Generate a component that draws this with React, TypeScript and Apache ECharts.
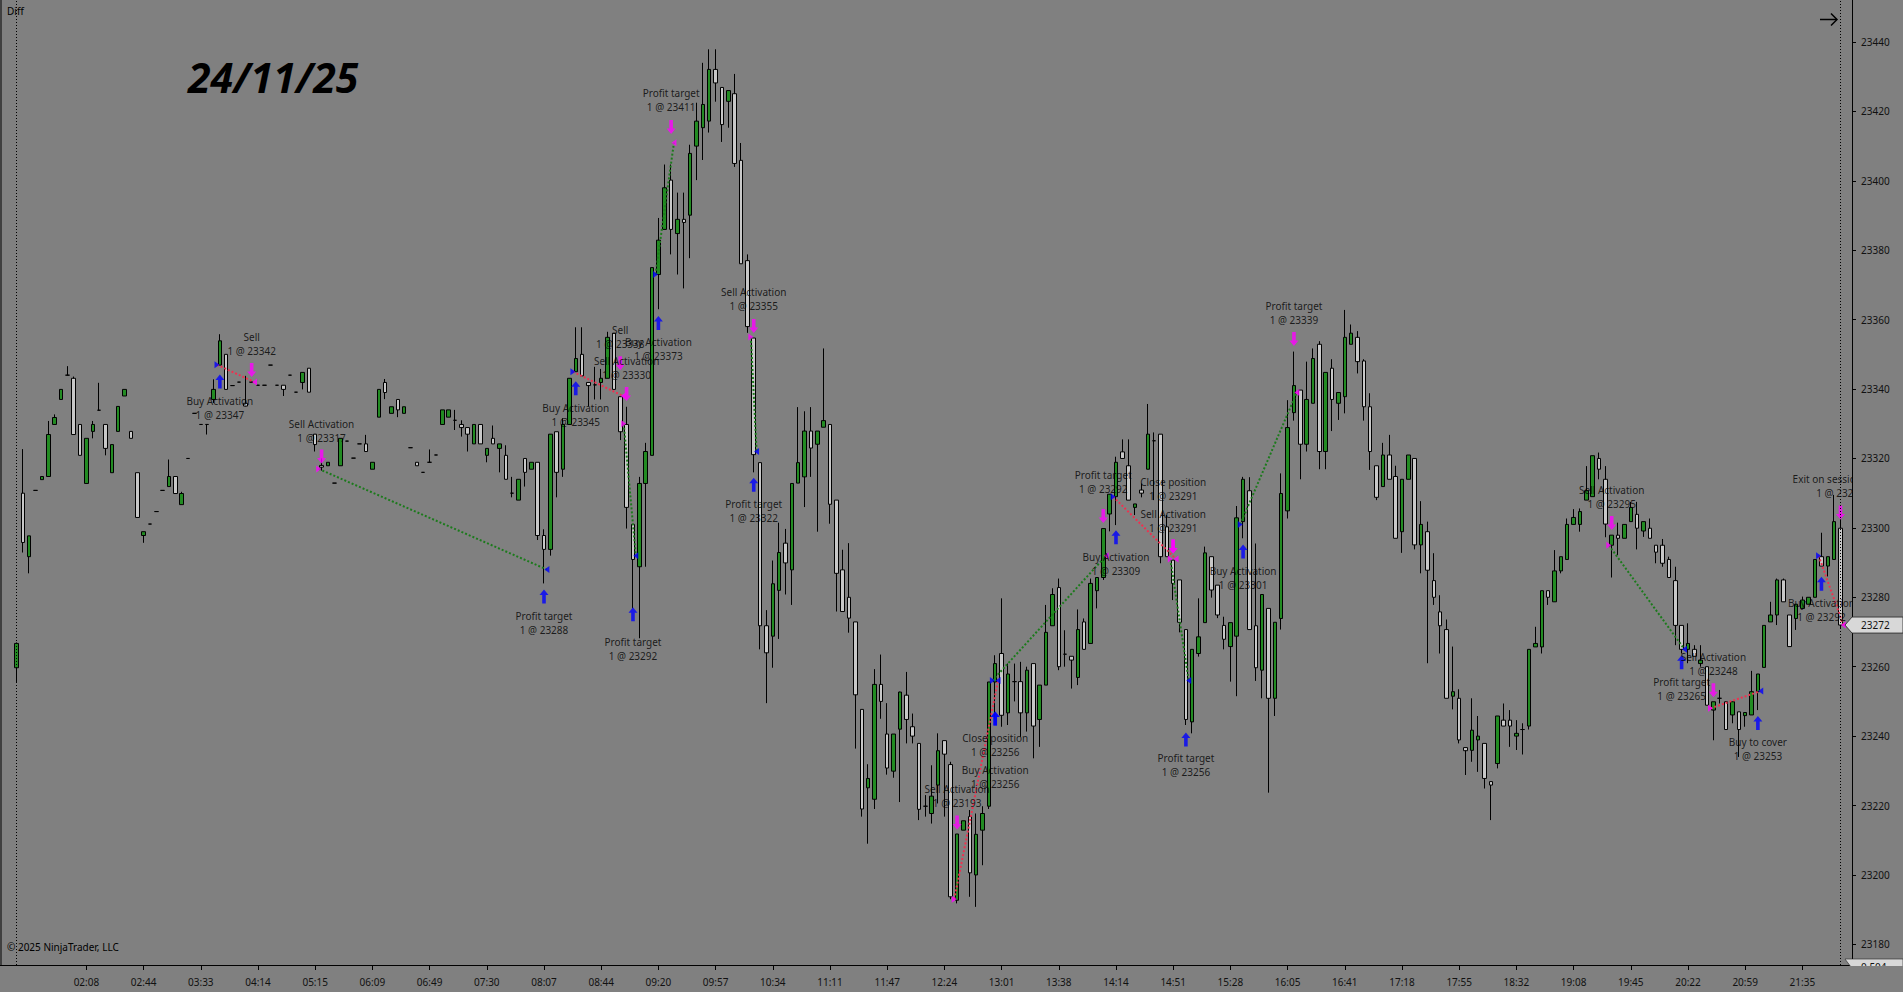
import React, { useEffect, useRef } from "react";
import * as echarts from "echarts";

// x axis: one bar per step, labels every 9 bars
const timeLabels = [
  "02:08", "02:44", "03:33", "04:14", "05:15", "06:09", "06:49", "07:30", "08:07", "08:44",
  "09:20", "09:57", "10:34", "11:11", "11:47", "12:24", "13:01", "13:38", "14:14", "14:51",
  "15:28", "16:05", "16:41", "17:18", "17:55", "18:32", "19:08", "19:45", "20:22", "20:59", "21:35",
];
const tickBars = [
  11, 20, 29, 38, 47, 56, 65, 74, 83, 92, 101, 110, 119, 128, 137, 146, 155, 164, 173, 182,
  191, 200, 209, 218, 227, 236, 245, 254, 263, 272, 281,
];
const priceTicks = [
  23180, 23200, 23220, 23240, 23260, 23280, 23300, 23320, 23340, 23360, 23380, 23400, 23420, 23440,
];

// [open, high, low, close]
const candles: number[][] = [
  [23259.7, 23267, 23255.6, 23266.7], [23310, 23322.7, 23292.9, 23295.8], [23291.7, 23297.7, 23286.9, 23297.7],
  [23310.8, 23310.8, 23310.8, 23310.8], [23313.9, 23314.8, 23313.9, 23314.8], [23314.8, 23330.8, 23314.8, 23326.9],
  [23329.8, 23332.7, 23329.8, 23331.8], [23337, 23339.9, 23337, 23339.9], [23344, 23346.6, 23344, 23344],
  [23343.1, 23343.6, 23326.9, 23326.9], [23329.8, 23329.8, 23320.9, 23320.9], [23312.8, 23325.8, 23312.8, 23325.8],
  [23327.8, 23330.8, 23325.8, 23329.8], [23333.9, 23341.8, 23333.9, 23333.9], [23329.8, 23329.8, 23320.9, 23322.9],
  [23315.9, 23324, 23315.9, 23324], [23327.8, 23335, 23327.8, 23335], [23338, 23339.9, 23338, 23339.9],
  [23327.8, 23327.8, 23325.8, 23325.8], [23315.9, 23315.9, 23303, 23303], [23297.8, 23298.9, 23295.7, 23298.9],
  [23301.1, 23301.1, 23301.1, 23301.1], [23304.7, 23304.7, 23304.7, 23304.7], [23310.8, 23310.8, 23310.8, 23310.8],
  [23311.9, 23319.7, 23311.9, 23314.8], [23314.8, 23314.8, 23309.9, 23309.9], [23306.7, 23310.4, 23306.7, 23309.9],
  [23320, 23320, 23320, 23320], [23333, 23333, 23333, 23333], [23329.8, 23329.8, 23329.8, 23329.8],
  [23329.8, 23329.8, 23326.9, 23329.8], [23337, 23342.8, 23336, 23339.9], [23346.9, 23355.8, 23346.9, 23353.9],
  [23350, 23350, 23339.9, 23339.9], [23341, 23341, 23341, 23341], [23342, 23342, 23342, 23342],
  [23335.9, 23343.8, 23335, 23335.1], [23342, 23342, 23342, 23342], [23341.1, 23341.1, 23341.1, 23341.1],
  [23341.1, 23341.1, 23341.1, 23341.1], [23346.9, 23346.9, 23346.9, 23346.9], [23341.1, 23341.1, 23341.1, 23341.1],
  [23341.1, 23341.1, 23338, 23339.9], [23344, 23344, 23344, 23344], [23339.1, 23339.1, 23339.1, 23339.1],
  [23341.9, 23344.8, 23339.9, 23344.8], [23346, 23346, 23339.1, 23339.1], [23327, 23327, 23322, 23324],
  [23318, 23320, 23316.5, 23317.5], [23317.9, 23318.9, 23317.9, 23318.9], [23312.9, 23312.9, 23312.9, 23312.9],
  [23317.9, 23325.8, 23317.9, 23325.8], [23325, 23325, 23325, 23325], [23320.1, 23320.1, 23320.1, 23320.1],
  [23324.2, 23324.2, 23324.2, 23324.2], [23324.2, 23326.8, 23322, 23322], [23316.9, 23318.9, 23316.9, 23318.9],
  [23331.9, 23339.9, 23331.9, 23339.9], [23341.9, 23342.9, 23337.1, 23339], [23333, 23334.9, 23333, 23334.9],
  [23337, 23337, 23331.9, 23334], [23333, 23334.9, 23333, 23334.9], [23323.1, 23323.1, 23323.1, 23323.1],
  [23318.9, 23318.9, 23317.9, 23317.9], [23316, 23316, 23316, 23316], [23318.9, 23322.6, 23318.9, 23318.9],
  [23321, 23321, 23321, 23321], [23329.8, 23334, 23329.8, 23334], [23331.9, 23334, 23331.9, 23334],
  [23331, 23334, 23328.2, 23331], [23329.8, 23331, 23326.3, 23328.9], [23328.9, 23328.9, 23322, 23327],
  [23324.2, 23329.8, 23324.2, 23329.8], [23329.8, 23329.8, 23324.2, 23324.2], [23320.9, 23322.9, 23318.9, 23322.9],
  [23325.8, 23329.5, 23324.2, 23324.2], [23322.9, 23324.2, 23316, 23324.2], [23320.9, 23323.8, 23314, 23314],
  [23310, 23314.7, 23308.8, 23310], [23308, 23314, 23308, 23314], [23320, 23320, 23311.9, 23316],
  [23316.9, 23318.9, 23316.9, 23318.9], [23318.9, 23318.9, 23296.5, 23297.8], [23297.8, 23299.6, 23284, 23293.8],
  [23293.8, 23327, 23292, 23327], [23327.7, 23327.7, 23308.8, 23316], [23316.9, 23331.6, 23314.7, 23329.8],
  [23329.8, 23343.1, 23329.8, 23343.1], [23345, 23357.8, 23345, 23348.8], [23350, 23357.8, 23343.8, 23343.8],
  [23341.9, 23341.9, 23335, 23341], [23341.2, 23346.4, 23337, 23341.2], [23341.9, 23345.8, 23337, 23343.1],
  [23343.1, 23356.5, 23343.1, 23354.9], [23356.1, 23356.1, 23339.9, 23339.9], [23337.8, 23337.8, 23325.3, 23327.7],
  [23329.8, 23334.9, 23299.8, 23305.9], [23301, 23301, 23276.8, 23290.9], [23288.8, 23314.7, 23268.2, 23312.8],
  [23312.8, 23324.5, 23288.8, 23322], [23320.9, 23375, 23320.9, 23375], [23373, 23389.3, 23363, 23382.9],
  [23386, 23404.7, 23386, 23398], [23400.2, 23404.7, 23378.8, 23386], [23384.8, 23396.6, 23373, 23388.9],
  [23388.9, 23396.6, 23369, 23388], [23390.1, 23410.4, 23377.7, 23407.9], [23410, 23422.5, 23400.2, 23417.2],
  [23415.3, 23434, 23406, 23422], [23417.2, 23437.9, 23413.9, 23432.1], [23432.1, 23437.9, 23422.8, 23428.2],
  [23426.9, 23426.9, 23411.2, 23416.2], [23422.9, 23426, 23415.3, 23426], [23425.1, 23430.8, 23404, 23405],
  [23405.9, 23410.9, 23376.1, 23376.1], [23377, 23378.8, 23356.2, 23358], [23354.7, 23354.7, 23316, 23321.1],
  [23318.8, 23318.8, 23265, 23271.8], [23271.8, 23276.3, 23249.5, 23264], [23268.8, 23290.6, 23259.7, 23283.9],
  [23282, 23301.5, 23268, 23292.9], [23295.6, 23299.7, 23280.8, 23289.9], [23287.9, 23312.8, 23277.8, 23312.8],
  [23312.9, 23334.8, 23312.9, 23318.8], [23314.7, 23333.6, 23306, 23327.9], [23327.9, 23334.8, 23314.7, 23323],
  [23324.1, 23327.9, 23298.9, 23327.9], [23329, 23351.7, 23329, 23330.9], [23329.8, 23329.8, 23301.2, 23306.8],
  [23308, 23308, 23275.9, 23286.9], [23287.9, 23293.7, 23275.9, 23275.9], [23280, 23295.6, 23269.8, 23274],
  [23272.9, 23272.9, 23236.4, 23251.9], [23247.7, 23247.7, 23216.8, 23219], [23225.1, 23231.9, 23209, 23227.8],
  [23221.8, 23259.3, 23219, 23254.9], [23254.9, 23263.5, 23245, 23250], [23240.6, 23249.5, 23228.9, 23230.8],
  [23229.9, 23240.6, 23228, 23240.6], [23242, 23252.8, 23221, 23252.7], [23251.8, 23258.5, 23237.9, 23244.8],
  [23242.7, 23246.5, 23237.9, 23240], [23237.9, 23237.9, 23215.8, 23218.9], [23219.8, 23223, 23216.8, 23219.8],
  [23217.7, 23231.6, 23214.8, 23222.7], [23225.9, 23240.8, 23220.6, 23235.8], [23238.7, 23238.7, 23216.8, 23234.8],
  [23231.8, 23232.6, 23193, 23193.7], [23192.7, 23211.8, 23191.8, 23211.8], [23212.9, 23215.6, 23212.9, 23215.6],
  [23216.8, 23218.7, 23193.7, 23200.6], [23200, 23217.7, 23190.8, 23211.7], [23212.9, 23219.8, 23202.8, 23217.7],
  [23219.8, 23255.6, 23219, 23255.6], [23255.6, 23263.3, 23245.1, 23260.9], [23263.8, 23279.7, 23242.7, 23246],
  [23246.7, 23260.9, 23243.2, 23257.9], [23255.7, 23260.9, 23250, 23255.7], [23255.7, 23261.4, 23239.8, 23246.7],
  [23246.7, 23260, 23241.3, 23259], [23260.9, 23260.9, 23233.6, 23242.9], [23244.8, 23254.7, 23236.9, 23254.7],
  [23254.7, 23277.8, 23254.7, 23269.9], [23271.8, 23282.6, 23271.8, 23280.8], [23282.8, 23285.4, 23259, 23260],
  [23263.6, 23270.5, 23260, 23263.6], [23263, 23263, 23253.7, 23261.9], [23256.9, 23276.5, 23254.7, 23270.7],
  [23272.9, 23273.9, 23265, 23265], [23266.7, 23285.4, 23266.7, 23284], [23281.9, 23285.7, 23276.8, 23285.7],
  [23285.7, 23299.8, 23285, 23299.8], [23304, 23309.7, 23299, 23309.7], [23309, 23320.5, 23300.8, 23318.9],
  [23321.9, 23325.5, 23320, 23320], [23317.9, 23325.5, 23308, 23308], [23305.9, 23306.9, 23303.7, 23306.9],
  [23310.9, 23312.8, 23308.8, 23310], [23316.9, 23335.7, 23316.9, 23327], [23325.1, 23327.5, 23308, 23325.1],
  [23327, 23327, 23289.8, 23291.7], [23300.3, 23303.7, 23291.7, 23291.7], [23290.7, 23290.7, 23279.2, 23284],
  [23285, 23285, 23269.9, 23272.8], [23270.7, 23270.7, 23243.2, 23244.8], [23244.1, 23265, 23240.8, 23265],
  [23263.8, 23279.7, 23262.9, 23268.6], [23272.7, 23294.6, 23272.7, 23292.8], [23291.7, 23291.7, 23279.9, 23282.1],
  [23283.5, 23283.5, 23274, 23274.9], [23271.9, 23274.4, 23265, 23267.9], [23265.8, 23272.7, 23255.7, 23272.7],
  [23268.8, 23306.3, 23251.5, 23302.9], [23301.8, 23314.7, 23297, 23314], [23310.7, 23314.6, 23270.7, 23270.7],
  [23271.8, 23295.5, 23255.9, 23259.7], [23259, 23280.8, 23250.9, 23280.8], [23276.8, 23276.8, 23223.7, 23250.9],
  [23250.9, 23272.8, 23245.8, 23272.8], [23273.9, 23315.7, 23270.7, 23309.9], [23304.9, 23336.8, 23302.7, 23328.9],
  [23333.2, 23350.8, 23330.9, 23341], [23339.7, 23339.7, 23314, 23324.1], [23324.1, 23347.9, 23322, 23337],
  [23335.9, 23351.7, 23335.9, 23348.8], [23352.9, 23353.8, 23316.9, 23322], [23322, 23344.8, 23316.9, 23344.8],
  [23346, 23348.6, 23327.9, 23337], [23335.9, 23339, 23331.1, 23339], [23337.8, 23362.8, 23333, 23354.9],
  [23352.9, 23358.6, 23352.9, 23356.1], [23354.9, 23356.7, 23344.5, 23347.9], [23348.1, 23348.6, 23330.9, 23334.9],
  [23334.9, 23338.8, 23316.7, 23322], [23317.9, 23317.9, 23308, 23308.8], [23311.9, 23324.5, 23311.9, 23321],
  [23321, 23326.8, 23314, 23314], [23314.8, 23317.9, 23297, 23297], [23298.9, 23314, 23292.8, 23314],
  [23314, 23321, 23314, 23321], [23320, 23320, 23293.8, 23295.1], [23295.1, 23307.7, 23286.9, 23301],
  [23298.9, 23301.8, 23261, 23287.8], [23284.8, 23292.7, 23277.8, 23280], [23275.8, 23280.6, 23263.8, 23271.8],
  [23270.7, 23273.6, 23250.9, 23250.9], [23251.5, 23265.8, 23247.7, 23252.8], [23250.9, 23253.5, 23237.9, 23238.9],
  [23236.7, 23236.7, 23228.8, 23235.8], [23235.9, 23250.9, 23232.6, 23241.7], [23238.9, 23245.8, 23229.7, 23240],
  [23237.9, 23237.9, 23224.9, 23227.8], [23226.9, 23226.9, 23215.8, 23225.9], [23232.1, 23245.8, 23230.7, 23245.8],
  [23244.6, 23249.4, 23242.9, 23242.9], [23244.6, 23247.5, 23236.9, 23242.9], [23240, 23244.6, 23236, 23240.8],
  [23241.9, 23243.7, 23234.7, 23241.9], [23242.9, 23265, 23241.9, 23265], [23265.7, 23271.5, 23265.7, 23266.7],
  [23265.7, 23281.9, 23263.8, 23281.9], [23281.9, 23281.9, 23277.8, 23280], [23278.7, 23293.6, 23278.7, 23287.6],
  [23287.6, 23291.7, 23286.9, 23291.7], [23290.9, 23302.7, 23290.9, 23301], [23301, 23305.4, 23301, 23303],
  [23301, 23305.6, 23298.9, 23304.7], [23308, 23317.8, 23308, 23310.7], [23309, 23320.8, 23309, 23320.8],
  [23320, 23321.7, 23314, 23316.9], [23314, 23317.8, 23297.3, 23301.1], [23295, 23297.9, 23285.7, 23297.9],
  [23297.9, 23301.5, 23292.2, 23297], [23297, 23301, 23297, 23301], [23301.8, 23307.5, 23301.8, 23305.9],
  [23303.9, 23307.5, 23293.8, 23299.9], [23299.1, 23301.8, 23297.4, 23301.8], [23299.9, 23302.7, 23297, 23297],
  [23295, 23295, 23289.8, 23293], [23295, 23296.8, 23288.8, 23289.8], [23290.9, 23291.7, 23285.7, 23285.7],
  [23284.8, 23288.8, 23266.2, 23271.9], [23271.9, 23271.9, 23263.8, 23265], [23265, 23272.5, 23261, 23266.7],
  [23265, 23266.2, 23263, 23263], [23260.9, 23266.2, 23260, 23261.9], [23260, 23260, 23248.9, 23248.9],
  [23247.5, 23249.9, 23238.8, 23249.9], [23250.9, 23253.3, 23249.4, 23250.9], [23249.9, 23249.9, 23241.9, 23241.9],
  [23246.1, 23249.9, 23243.7, 23249.9], [23247, 23247, 23234, 23241.9], [23245.9, 23246.8, 23242.7, 23246.8],
  [23246.1, 23258.8, 23246.1, 23252.8], [23252.8, 23257.9, 23247.5, 23257.9], [23259.8, 23271.9, 23259.8, 23271.9],
  [23272.9, 23278.7, 23272.9, 23274.9], [23274.9, 23285.4, 23272, 23285], [23285, 23285.4, 23278.7, 23278.7],
  [23274.9, 23274.9, 23265.8, 23265.8], [23273.9, 23278, 23270.6, 23278], [23276.8, 23280.2, 23276.8, 23279.2],
  [23278, 23280, 23278, 23280], [23280, 23290.9, 23280, 23290.9], [23291.7, 23298.6, 23289, 23289],
  [23289, 23291.7, 23286, 23291.7], [23290.9, 23309.5, 23290.9, 23301.8], [23299.9, 23302.5, 23271, 23272],
];

// executions: bar, price, arrow price, label price (label centre)
type Exec = { name: string; bar: number; price: number; arrow: number; label: number };
type Trade = { side: "long" | "short"; entry: Exec; exit: Exec };
const trades: Trade[] = [
  { side: "long", entry: { name: "Buy Activation", bar: 32, price: 23347, arrow: 23342.2, label: 23334.5 },
    exit: { name: "Sell", bar: 37, price: 23342, arrow: 23345.5, label: 23353.0 } },
  { side: "short", entry: { name: "Sell Activation", bar: 48, price: 23317, arrow: 23320.6, label: 23328.0 },
    exit: { name: "Profit target", bar: 83, price: 23288, arrow: 23280.2, label: 23272.6 } },
  { side: "long", entry: { name: "Buy Activation", bar: 88, price: 23345, arrow: 23340.2, label: 23332.5 },
    exit: { name: "Sell", bar: 95, price: 23338, arrow: 23347.4, label: 23355.1 } },
  { side: "short", entry: { name: "Sell Activation", bar: 96, price: 23330, arrow: 23338.6, label: 23346.2 },
    exit: { name: "Profit target", bar: 97, price: 23292, arrow: 23275.1, label: 23265.2 } },
  { side: "long", entry: { name: "Buy Activation", bar: 101, price: 23373, arrow: 23359.0, label: 23351.5 },
    exit: { name: "Profit target", bar: 103, price: 23411, arrow: 23415.5, label: 23423.3 } },
  { side: "short", entry: { name: "Sell Activation", bar: 116, price: 23355, arrow: 23358.2, label: 23365.9 },
    exit: { name: "Profit target", bar: 116, price: 23322, arrow: 23312.4, label: 23304.9 } },
  { side: "short", entry: { name: "Sell Activation", bar: 148, price: 23193, arrow: 23215.1, label: 23222.7 },
    exit: { name: "Close position", bar: 154, price: 23256, arrow: 23245.1, label: 23237.4 } },
  { side: "long", entry: { name: "Buy Activation", bar: 154, price: 23256, arrow: 23245.1, label: 23228.2 },
    exit: { name: "Profit target", bar: 171, price: 23292, arrow: 23303.4, label: 23313.1 } },
  { side: "long", entry: { name: "Buy Activation", bar: 173, price: 23309, arrow: 23297.3, label: 23289.5 },
    exit: { name: "Close position", bar: 182, price: 23291, arrow: 23294.6, label: 23311.2 } },
  { side: "short", entry: { name: "Sell Activation", bar: 182, price: 23291, arrow: 23294.6, label: 23302.0 },
    exit: { name: "Profit target", bar: 184, price: 23256, arrow: 23239.0, label: 23231.6 } },
  { side: "long", entry: { name: "Buy Activation", bar: 193, price: 23301, arrow: 23293.2, label: 23285.6 },
    exit: { name: "Profit target", bar: 201, price: 23339, arrow: 23354.4, label: 23361.9 } },
  { side: "short", entry: { name: "Sell Activation", bar: 251, price: 23295, arrow: 23301.4, label: 23308.8 },
    exit: { name: "Profit target", bar: 262, price: 23265, arrow: 23261.3, label: 23253.5 } },
  { side: "short", entry: { name: "Sell Activation", bar: 267, price: 23248, arrow: 23253.2, label: 23260.7 },
    exit: { name: "Buy to cover", bar: 274, price: 23253, arrow: 23243.8, label: 23236.2 } },
  { side: "long", entry: { name: "Buy Activation", bar: 284, price: 23292, arrow: 23283.9, label: 23276.3 },
    exit: { name: "Exit on session close", bar: 287, price: 23272, arrow: 23304.4, label: 23312.0 } },
];

const FONT = "'Segoe UI', 'Noto Sans', sans-serif";
const BG = "#808080";
const UP = "#228B22";
const DOWN = "#C8C8C8";
const BUY = "#0000FF";
const SELL = "#FF00FF";
const WIN = "#1C7A1C";
const LOSS = "#EE3150";

const ARROW_UP = "path://M5 0L10 5.5H7V14H3V5.5H0Z";
const ARROW_DOWN = "path://M3 0H7V8.5H10L5 14L0 8.5H3Z";
const TRI_RIGHT = "path://M0 0L6 4L0 8Z";
const TRI_LEFT = "path://M6 0L0 4L6 8Z";

export default function App() {
  const ref = useRef<HTMLDivElement | null>(null);

  useEffect(() => {
    if (!ref.current) return;
    const chart = echarts.init(ref.current, null, { renderer: "svg" });

    const connectors = trades.map((t) => {
      const gain = t.side === "long" ? t.exit.price - t.entry.price : t.entry.price - t.exit.price;
      return {
        coords: [[t.entry.bar - 0.45, t.entry.price], [t.exit.bar + 0.45, t.exit.price]],
        lineStyle: { color: gain > 0 ? WIN : LOSS },
      };
    });

    const triangles: any[] = [];
    const arrows: any[] = [];
    const labels: any[] = [];
    trades.forEach((t) => {
      const entryBuy = t.side === "long";
      triangles.push({ value: [t.entry.bar - 0.45, t.entry.price], symbol: TRI_RIGHT, itemStyle: { color: entryBuy ? BUY : SELL } });
      triangles.push({ value: [t.exit.bar + 0.45, t.exit.price], symbol: TRI_LEFT, itemStyle: { color: entryBuy ? SELL : BUY } });
      arrows.push({ value: [t.entry.bar, t.entry.arrow], symbol: entryBuy ? ARROW_UP : ARROW_DOWN, itemStyle: { color: entryBuy ? BUY : SELL } });
      arrows.push({ value: [t.exit.bar, t.exit.arrow], symbol: entryBuy ? ARROW_DOWN : ARROW_UP, itemStyle: { color: entryBuy ? SELL : BUY } });
      labels.push({ name: `${t.entry.name}\n1 @ ${t.entry.price}`, value: [t.entry.bar, t.entry.label] });
      labels.push({ name: `${t.exit.name}\n1 @ ${t.exit.price}`, value: [t.exit.bar, t.exit.label] });
    });

    chart.setOption({
      animation: false,
      backgroundColor: BG,
      grid: { left: 0, top: 0, width: 1852, height: 965, containLabel: false, outerBoundsMode: "none" },
      xAxis: {
        type: "value",
        min: -2.5962,
        max: 288.81,
        axisLine: { show: true, onZero: false, lineStyle: { color: "#000", width: 1 } },
        axisTick: { show: true, customValues: tickBars, length: 5, lineStyle: { color: "#000" } },
        axisLabel: {
          customValues: tickBars,
          formatter: (v: number) => timeLabels[tickBars.indexOf(v)] ?? "",
          margin: 12,
          color: "#111",
          fontSize: 10,
          fontFamily: FONT,
        },
        splitLine: { show: false },
      },
      yAxis: {
        type: "value",
        position: "right",
        min: 23174.05,
        max: 23452.1,
        z: 60,
        axisLine: { show: true, onZero: false, lineStyle: { color: "#000", width: 1 } },
        axisTick: { show: true, customValues: priceTicks, length: 4, lineStyle: { color: "#000" } },
        axisLabel: {
          customValues: priceTicks,
          formatter: (v: number) => String(v),
          margin: 9,
          color: "#111",
          fontSize: 10,
          fontFamily: FONT,
        },
        splitLine: { show: false },
      },
      series: [
        {
          type: "candlestick",
          data: candles.map((c, i) => [i, c[0], c[3], c[2], c[1]]),
          encode: { x: 0, y: [1, 2, 3, 4] },
          barWidth: 4,
          z: 2,
          itemStyle: { color: UP, color0: DOWN, borderColor: "#000", borderColor0: "#000", borderWidth: 1 },
          markLine: {
            silent: true,
            symbol: ["none", "none"],
            label: { show: false },
            lineStyle: { type: [1, 2], color: "#000", width: 1 },
            data: [{ xAxis: 0 }, { xAxis: candles.length - 1 }],
          },
        },
        {
          type: "lines",
          coordinateSystem: "cartesian2d",
          z: 3,
          silent: true,
          lineStyle: { type: "dotted", width: 2, opacity: 1 },
          data: connectors,
        },
        {
          type: "scatter",
          z: 4,
          silent: true,
          symbolSize: [5, 7],
          data: triangles,
        },
        {
          type: "scatter",
          z: 4,
          silent: true,
          symbolSize: [9, 14],
          data: arrows,
        },
        {
          type: "scatter",
          z: 5,
          silent: true,
          symbol: "circle",
          symbolSize: 1,
          itemStyle: { color: "rgba(0,0,0,0)" },
          label: {
            show: true,
            position: "inside",
            formatter: (p: any) => p.name,
            color: "#000",
            fontSize: 10,
            lineHeight: 14,
            fontFamily: FONT,
            align: "center",
            verticalAlign: "middle",
          },
          data: labels,
        },
      ],
    });

    const last = candles[candles.length - 1][3];
    const py = chart.convertToPixel({ yAxisIndex: 0 }, last) as number;

    chart.setOption({
      graphic: [
        { id: "border", type: "line", shape: { x1: 1, y1: 0, x2: 1, y2: 965 }, style: { stroke: "#000", lineWidth: 1 }, z: 40 },
        { id: "diff", type: "text", x: 7, y: 11, style: { text: "Diff", font: `10px ${FONT}`, fill: "#000", textVerticalAlign: "middle" }, z: 40 },
        { id: "date", type: "text", x: 188, y: 77, style: { text: "24/11/25", font: "italic bold 41px 'Noto Sans'", fill: "#000", textVerticalAlign: "middle" }, z: 40 },
        { id: "copy", type: "text", x: 7, y: 947, style: { text: "© 2025 NinjaTrader, LLC", font: `10px ${FONT}`, fill: "#000", textVerticalAlign: "middle" }, z: 40 },
        { id: "arrowShaft", type: "line", shape: { x1: 1820, y1: 19.5, x2: 1837, y2: 19.5 }, style: { stroke: "#000", lineWidth: 1.5 }, z: 40 },
        { id: "arrowHead", type: "polyline", shape: { points: [[1831, 13.5], [1837, 19.5], [1831, 25.5]] }, style: { stroke: "#000", lineWidth: 1.5, fill: null }, z: 40 },
        { id: "cover", type: "rect", shape: { x: 1853, y: 0, width: 50, height: 958 }, style: { fill: BG }, z: 50 },
        { id: "lowBox", type: "polygon", shape: { points: [[1845, 959], [1903, 959], [1903, 967], [1851, 967]] }, style: { fill: "#D8D8D8", stroke: "#222", lineWidth: 0.6 }, z: 70 },
        { id: "lowText", type: "text", x: 1861, y: 967, style: { text: "0,504", font: `10px ${FONT}`, fill: "#111", textVerticalAlign: "middle" }, z: 71 },
        { id: "lowCover", type: "rect", shape: { x: 1843, y: 966, width: 60, height: 26 }, style: { fill: BG }, z: 72 },
        {
          id: "priceBox",
          type: "polygon",
          shape: { points: [[1845, py], [1852, py - 8], [1903, py - 8], [1903, py + 8], [1852, py + 8]] },
          style: { fill: "#D8D8D8", stroke: "#222", lineWidth: 0.8 },
          z: 70,
        },
        { id: "priceText", type: "text", x: 1861, y: py, style: { text: String(last), font: `10px ${FONT}`, fill: "#111", textVerticalAlign: "middle" }, z: 71 },
      ],
    });

    return () => chart.dispose();
  }, []);

  return <div ref={ref} style={{ position: "absolute", left: 0, top: 0, width: 1903, height: 992 }} />;
}
